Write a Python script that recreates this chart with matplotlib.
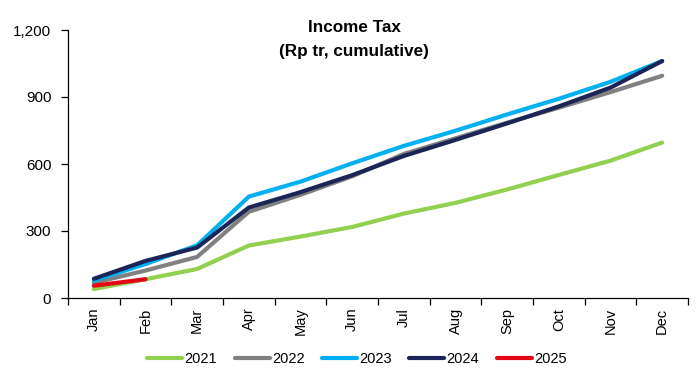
import numpy as np
import matplotlib
matplotlib.use("Agg")
import matplotlib.pyplot as plt
from matplotlib.ticker import FuncFormatter, FixedLocator

# Monthly cumulative income tax receipts (Rp trillion)
months = ["Jan", "Feb", "Mar", "Apr", "May", "Jun",
          "Jul", "Aug", "Sep", "Oct", "Nov", "Dec"]
tax_2021 = [40, 84, 130, 235, 275, 318, 378, 426, 486, 551, 615, 696]
tax_2022 = [68, 123, 184, 386, 462, 545, 645, 715, 785, 852, 922, 995]
tax_2023 = [78, 152, 236, 454, 521, 603, 681, 749, 822, 892, 968, 1061]
tax_2024 = [86, 166, 226, 405, 474, 550, 636, 708, 782, 858, 942, 1061]
tax_2025 = [55, 84]

series = [
    ("2021", tax_2021, "#92D050"),
    ("2022", tax_2022, "#808080"),
    ("2023", tax_2023, "#00B0F0"),
    ("2024", tax_2024, "#1B2557"),
    ("2025", tax_2025, "#E30613"),
]

y_ticks = [0, 300, 600, 900, 1200]

plt.rcParams["font.family"] = ["Liberation Sans", "DejaVu Sans"]

fig = plt.figure(figsize=(6.97, 3.69), dpi=100)
ax = fig.add_axes([68 / 697, 1 - 298 / 369, 620 / 697, 268 / 369])

x = np.arange(len(months))
for label, values, color in series:
    ax.plot(x[:len(values)], values, color=color, lw=3.0, label=label,
            solid_capstyle="round", solid_joinstyle="round")

ax.set_xlim(-0.5, len(months) - 0.5)
ax.set_ylim(0, 1200)

# tick marks on the category boundaries, labels centred between them
ax.xaxis.set_major_locator(FixedLocator(np.arange(-0.5, len(months), 1.0)))
ax.xaxis.set_minor_locator(FixedLocator(x))
ax.set_xticklabels([], minor=False)
ax.set_xticklabels(months, minor=True, rotation=90, fontsize=10.5)
ax.tick_params(axis="x", which="major", direction="out", length=5, width=0.9, color="black")
ax.tick_params(axis="x", which="minor", length=0, pad=7)

ax.set_yticks(y_ticks)
ax.yaxis.set_major_formatter(FuncFormatter(lambda v, p: f"{int(v):,}"))
ax.tick_params(axis="y", direction="out", length=5, width=0.9, pad=7,
               labelsize=11, color="black")

for side in ("top", "right"):
    ax.spines[side].set_visible(False)
for side in ("left", "bottom"):
    ax.spines[side].set_linewidth(0.9)
    ax.spines[side].set_color("black")

fig.text(354 / 697, 1 - 27.5 / 369, "Income Tax", ha="center", va="center",
         fontsize=12.3, fontweight="bold")
fig.text(354 / 697, 1 - 51.5 / 369, "(Rp tr, cumulative)", ha="center", va="center",
         fontsize=12.3, fontweight="bold")

fig.legend(loc="center", bbox_to_anchor=(357 / 697, 1 - 359 / 369), ncol=5,
           frameon=False, fontsize=10.5, handlelength=2.4,
           handletextpad=0.15, columnspacing=1.2, borderpad=0, borderaxespad=0)

fig.savefig("out.png", dpi=100)
